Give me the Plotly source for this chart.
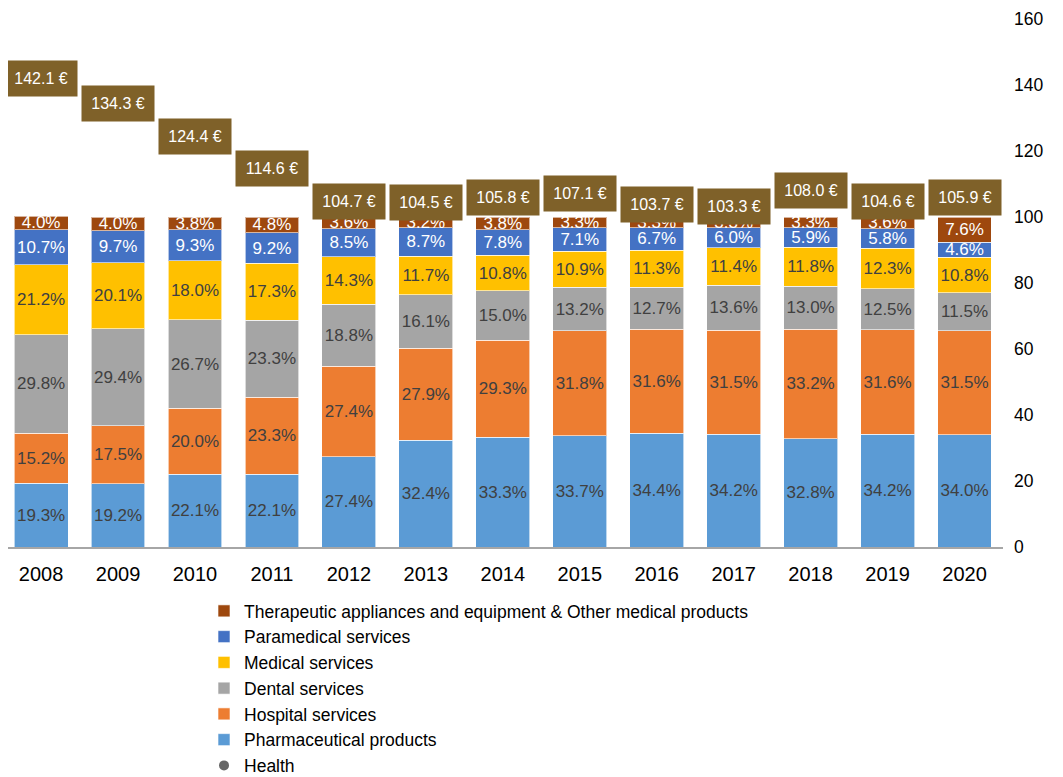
import plotly.graph_objects as go

years = ["2008", "2009", "2010", "2011", "2012", "2013", "2014",
         "2015", "2016", "2017", "2018", "2019", "2020"]

pharmaceutical = [19.3, 19.2, 22.1, 22.1, 27.4, 32.4, 33.3, 33.7, 34.4, 34.2, 32.8, 34.2, 34.0]
hospital = [15.2, 17.5, 20.0, 23.3, 27.4, 27.9, 29.3, 31.8, 31.6, 31.5, 33.2, 31.6, 31.5]
dental = [29.8, 29.4, 26.7, 23.3, 18.8, 16.1, 15.0, 13.2, 12.7, 13.6, 13.0, 12.5, 11.5]
medical = [21.2, 20.1, 18.0, 17.3, 14.3, 11.7, 10.8, 10.9, 11.3, 11.4, 11.8, 12.3, 10.8]
paramedical = [10.7, 9.7, 9.3, 9.2, 8.5, 8.7, 7.8, 7.1, 6.7, 6.0, 5.9, 5.8, 4.6]
therapeutic = [4.0, 4.0, 3.8, 4.8, 3.6, 3.2, 3.8, 3.3, 3.3, 3.3, 3.3, 3.6, 7.6]
health = [142.1, 134.3, 124.4, 114.6, 104.7, 104.5, 105.8, 107.1, 103.7, 103.3, 108.0, 104.6, 105.9]

FONT = "Liberation Sans, Arial, sans-serif"
W, H = 1055, 769  # page body has an 8px margin

# (name, values, colour, text colour) from bottom to top of the stack
series = [
    ("Pharmaceutical products", pharmaceutical, "#5B9BD5", "#404040"),
    ("Hospital services", hospital, "#ED7D31", "#404040"),
    ("Dental services", dental, "#A5A5A5", "#404040"),
    ("Medical services", medical, "#FFC000", "#404040"),
    ("Paramedical services", paramedical, "#4472C4", "white"),
    ("Therapeutic appliances and equipment & Other medical products", therapeutic, "#9E480E", "white"),
]

fig = go.Figure()
for rank, (name, vals, col, tcol) in enumerate(series):
    fig.add_trace(go.Bar(
        x=years, y=vals, name=name,
        marker=dict(color=col, line=dict(color="rgba(255,255,255,0.6)", width=1)),
        text=[f"{v:.1f}%" for v in vals],
        textposition="inside", insidetextanchor="middle", textangle=0,
        textfont=dict(color=tcol, size=17, family=FONT),
        legendrank=100 - rank,
        cliponaxis=False,
    ))

fig.add_trace(go.Scatter(
    x=years, y=health, name="Health", mode="markers",
    marker=dict(color="#666666", size=10),
    legendrank=200,
))

# value boxes; on a category axis the annotation x is the category's serial number
for i, v in enumerate(health):
    fig.add_annotation(
        x=i, y=v, text=f"{v:.1f} €", showarrow=False,
        bgcolor="#7F6129", width=70, height=33,
        font=dict(color="white", size=16, family=FONT),
    )

fig.update_layout(
    barmode="stack",
    bargap=0.3,
    width=W, height=H,
    margin=dict(l=0, r=60, t=11, b=230),
    plot_bgcolor="white", paper_bgcolor="white",
    font=dict(family=FONT, color="black"),
    uniformtext=dict(minsize=17, mode="show"),
    showlegend=True,
    legend=dict(
        x=0.197, xanchor="left",
        yref="container", y=1 - 585 / H, yanchor="top",
        font=dict(size=17.5, family=FONT),
        traceorder="normal",
        tracegroupgap=0,
    ),
    xaxis=dict(
        type="category", range=[-0.43, 12.5],
        showline=True, linecolor="#A6A6A6", linewidth=2,
        tickfont=dict(size=20), ticks="", ticklabelstandoff=8,
    ),
    yaxis=dict(
        side="right", range=[0, 160], dtick=20,
        showgrid=False, zeroline=False, showline=False,
        tickfont=dict(size=17.5), ticklabelstandoff=10,
    ),
)

fig.write_html("out.html")
